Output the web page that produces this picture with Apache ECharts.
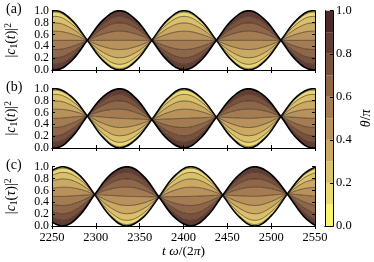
<!DOCTYPE html>
<html><head><meta charset="utf-8">
<script src="https://cdn.jsdelivr.net/npm/echarts@6/dist/echarts.min.js"></script>
<style>html,body{margin:0;padding:0;background:#fff}#c{width:374px;height:262px}</style>
</head><body><div id="c"></div>
<script>
// theta/pi contour levels
const thetaLevels = [0, 0.1, 0.2, 0.3, 0.4, 0.5, 0.6, 0.7, 0.8, 0.9, 1.0];
// band colours for theta/pi in [0,0.1], ..., [0.9,1.0]
const bandColors = ['#f9f36e', '#ebd875', '#dbc06b', '#cba963', '#b9925b', '#a57c52', '#8f6748', '#79523e', '#633d34', '#4c2a29'];

// panel (a): sample times, theta=0 curve, crossing (theta=pi/2) curve
const tA   = [2250, 2253.5, 2271.9, 2290.3, 2308.7, 2327.1, 2345.5, 2363.9, 2382.3, 2400.7, 2419.1, 2437.5, 2455.9, 2474.3, 2492.7, 2511.1, 2529.5, 2547.9, 2550];
const topA = [0.99, 1.0, 0.85, 0.5, 0.15, 0.0, 0.15, 0.5, 0.85, 1.0, 0.85, 0.5, 0.15, 0.0, 0.15, 0.5, 0.85, 1.0, 1.0];
const midA = [0.5, 0.5, 0.5, 0.5, 0.5, 0.5, 0.5, 0.5, 0.5, 0.5, 0.5, 0.5, 0.5, 0.5, 0.5, 0.5, 0.5, 0.5, 0.5];

// panel (b)
const tB   = [2250, 2253.5, 2271.9, 2290.3, 2308.7, 2327.1, 2345.5, 2363.9, 2382.3, 2400.7, 2419.1, 2437.5, 2455.9, 2474.3, 2492.7, 2511.1, 2529.5, 2547.9, 2550];
const topB = [0.99, 1.0, 0.87, 0.54, 0.17, 0.0, 0.14, 0.48, 0.84, 1.0, 0.86, 0.52, 0.16, 0.0, 0.16, 0.53, 0.87, 1.0, 1.0];
const midB = [0.5, 0.5, 0.52, 0.54, 0.52, 0.5, 0.49, 0.48, 0.49, 0.5, 0.51, 0.52, 0.51, 0.5, 0.515, 0.53, 0.515, 0.5, 0.5];

// panel (c)
const tC   = [2250, 2262.0, 2280.3, 2298.7, 2317.0, 2335.4, 2353.7, 2372.0, 2390.2, 2408.4, 2426.5, 2444.7, 2463.1, 2481.5, 2499.9, 2518.4, 2536.7, 2550];
const topC = [0.935, 1.0, 0.87, 0.53, 0.16, 0.0, 0.14, 0.49, 0.85, 1.0, 0.86, 0.52, 0.16, 0.0, 0.17, 0.54, 0.87, 0.99];
const midC = [0.5, 0.5, 0.515, 0.53, 0.515, 0.5, 0.495, 0.49, 0.495, 0.5, 0.51, 0.52, 0.51, 0.5, 0.52, 0.54, 0.52, 0.5];

const panelLabels = ['(a)', '(b)', '(c)'];
const yAxisNames = [
  '{n||}{i|c}{s|1}{n|(}{i|t}{n|)|}{p|2}',
  '{n||}{i|c}{s|1}{n|(}{i|t}{n|)|}{p|2}',
  '{n||}{i|c}{s|1}{n|(}{i|τ}{n|)|}{p|2}'
];
const xAxisName = '{i|t} {i|ω}{n|/(2}{i|π}{n|)}';
const cbarName = '{i|θ}{n|/}{i|π}';
const xMin = 2250, xMax = 2550, xStep = 50;
const yMin = 0, yMax = 1, yStep = 0.2;

const FONT = "'Liberation Serif', 'Times New Roman', serif";
const rich = {
  n: {fontFamily: FONT, fontSize: 14, lineHeight: 16, color: '#000'},
  i: {fontFamily: FONT, fontSize: 14, fontStyle: 'italic', lineHeight: 16, color: '#000'},
  s: {fontFamily: FONT, fontSize: 9.5, verticalAlign: 'bottom', lineHeight: 16, color: '#000'},
  p: {fontFamily: FONT, fontSize: 9.5, verticalAlign: 'top', lineHeight: 16, color: '#000'}
};
const richX = {
  n: {fontFamily: FONT, fontSize: 13.5, color: '#000'},
  i: {fontFamily: FONT, fontSize: 13.5, fontStyle: 'italic', color: '#000'}
};

const panels = [
  {t: tA, top: topA, mid: midA},
  {t: tB, top: topB, mid: midB},
  {t: tC, top: topC, mid: midC}
];
const L = 52, W = 263, H = 59.3;
const tops = [10.7, 88.7, 166.7];

const grid = [], xAxis = [], yAxis = [], series = [], graphic = [];
const lineAx = {show: true, lineStyle: {color: '#000', width: 1}};
const tick = {show: true, inside: true, length: 3, lineStyle: {color: '#000'}};
const yLabel = {fontFamily: FONT, fontSize: 11.8, color: '#000', margin: 3,
  showMinLabel: true, showMaxLabel: true, hideOverlap: false, formatter: v => v.toFixed(1)};
panels.forEach((P, p) => {
  grid.push({left: L, top: tops[p], width: W, height: H, containLabel: false});
  const last = p === 2;
  xAxis.push({gridIndex: p, type: 'value', min: xMin, max: xMax, interval: xStep, position: 'bottom', z: 10,
    axisLine: lineAx, axisTick: tick, splitLine: {show: false},
    axisLabel: {show: last, fontFamily: FONT, fontSize: 12.5, color: '#000', margin: 5,
      showMinLabel: true, showMaxLabel: true, hideOverlap: false, formatter: v => String(v)},
    name: last ? xAxisName : '', nameLocation: 'middle', nameGap: 17,
    nameTextStyle: {rich: richX}});
  xAxis.push({gridIndex: p, type: 'value', min: xMin, max: xMax, interval: xStep, position: 'top', z: 10,
    axisLine: lineAx, axisTick: tick, splitLine: {show: false}, axisLabel: {show: false}});
  yAxis.push({gridIndex: p, type: 'value', min: yMin, max: yMax, interval: yStep, position: 'left', z: 10,
    axisLine: lineAx, axisTick: tick, splitLine: {show: false}, axisLabel: yLabel});
  yAxis.push({gridIndex: p, type: 'value', min: yMin, max: yMax, interval: yStep, position: 'right', z: 10,
    axisLine: lineAx, axisTick: tick, splitLine: {show: false}, axisLabel: {show: false}});

  const curves = thetaLevels.map(th => P.t.map((x, i) => P.mid[i] + Math.cos(Math.PI * th) * (P.top[i] - P.mid[i])));
  const common = {type: 'line', xAxisIndex: 2 * p, yAxisIndex: 2 * p, symbol: 'none', smooth: 0.4,
    animation: false, silent: true};
  // filled bands: stacked differences between consecutive level curves.
  // value first in each row so that the y dimension is the stacked one.
  series.push(Object.assign({}, common, {stack: 'p' + p, stackStrategy: 'all', z: 2,
    encode: {x: 1, y: 0}, lineStyle: {width: 0},
    data: P.t.map((x, i) => [curves[0][i], x])}));
  for (let k = 1; k < thetaLevels.length; k++) {
    series.push(Object.assign({}, common, {stack: 'p' + p, stackStrategy: 'all', z: 2,
      encode: {x: 1, y: 0}, lineStyle: {width: 0},
      areaStyle: {color: bandColors[k - 1], opacity: 1},
      data: P.t.map((x, i) => [curves[k][i] - curves[k - 1][i], x])}));
  }
  // contour lines
  for (let k = 0; k < thetaLevels.length; k++) {
    const outer = k === 0 || k === thetaLevels.length - 1;
    series.push(Object.assign({}, common, {z: 3,
      lineStyle: {width: outer ? 1.6 : 0.7, color: outer ? '#000' : 'rgba(40,28,20,0.8)'},
      data: P.t.map((x, i) => [x, curves[k][i]])}));
  }
  graphic.push({type: 'text', left: 6, top: tops[p] - 8,
    style: {text: panelLabels[p], fontFamily: FONT, fontSize: 14, fill: '#000'}});
  graphic.push({type: 'text', x: 11, y: tops[p] + H / 2, rotation: Math.PI / 2,
    style: {text: yAxisNames[p], rich: rich, align: 'center', verticalAlign: 'middle'}});
});

// colorbar
grid.push({left: 325, top: 10.7, width: 12, height: 215.3});
xAxis.push({gridIndex: 3, type: 'category', data: ['c'], show: false});
yAxis.push({gridIndex: 3, type: 'value', min: 0, max: 1, interval: 0.2, position: 'right', z: 10,
  axisLine: lineAx, axisTick: tick, splitLine: {show: false},
  axisLabel: {fontFamily: FONT, fontSize: 12.5, color: '#000', margin: 3,
    showMinLabel: true, showMaxLabel: true, formatter: v => v.toFixed(1)},
  name: cbarName, nameLocation: 'middle', nameGap: 26, nameRotate: 90,
  nameTextStyle: {rich: {
    n: {fontFamily: FONT, fontSize: 14, color: '#000'},
    i: {fontFamily: FONT, fontSize: 14, fontStyle: 'italic', color: '#000'}
  }}});
bandColors.forEach((c, k) => {
  series.push({type: 'bar', xAxisIndex: 6, yAxisIndex: 6, stack: 'cb', barWidth: '100%',
    barCategoryGap: '0%', animation: false, silent: true,
    itemStyle: {color: c}, data: [thetaLevels[k + 1] - thetaLevels[k]]});
});
// frame edges for the colorbar
yAxis.push({gridIndex: 3, type: 'value', min: 0, max: 1, position: 'left', z: 10,
  axisLine: lineAx, axisTick: {show: false}, axisLabel: {show: false}, splitLine: {show: false}});
xAxis.push({gridIndex: 3, type: 'category', data: ['c'], position: 'top', z: 10,
  axisLine: lineAx, axisTick: {show: false}, axisLabel: {show: false}});
xAxis.push({gridIndex: 3, type: 'category', data: ['c'], position: 'bottom', z: 10,
  axisLine: lineAx, axisTick: {show: false}, axisLabel: {show: false}});

const chart = echarts.init(document.getElementById('c'), null, {renderer: 'canvas'});
chart.setOption({animation: false, backgroundColor: '#fff', grid, xAxis, yAxis, series, graphic});
</script>
</body></html>
